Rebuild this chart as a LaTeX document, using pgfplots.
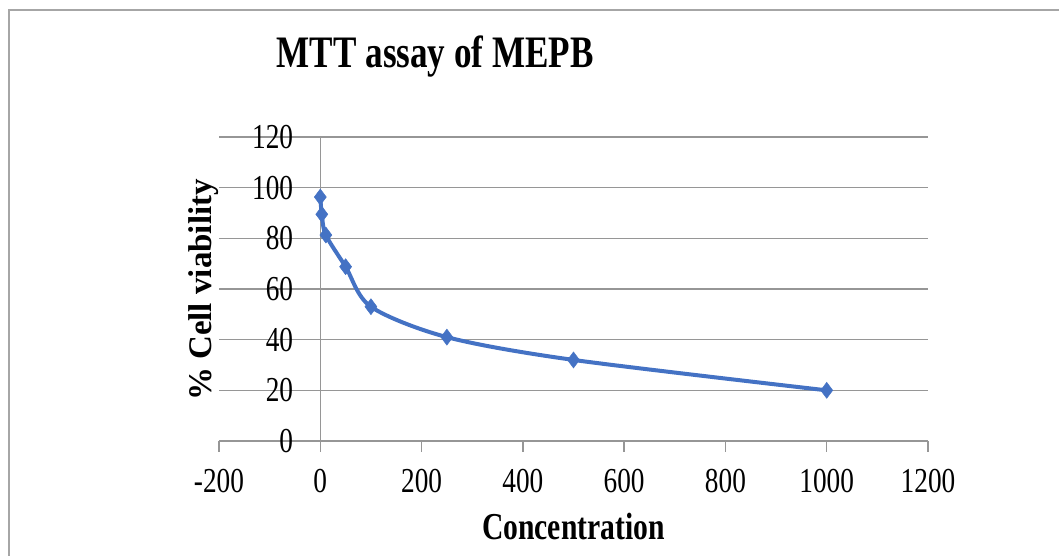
\documentclass[border=0pt]{standalone}
\usepackage{pgfplots}
\pgfplotsset{compat=1.18}
\usepackage{fontspec}
\setmainfont[FakeStretch=0.78]{Liberation Serif}
\newfontfamily\ylabfont{Liberation Serif}
\definecolor{seriesblue}{HTML}{4472C4}
\definecolor{axgray}{HTML}{969696}
\definecolor{framegray}{HTML}{A6A6A6}
\begin{document}
\begin{tikzpicture}
\useasboundingbox (0,0) rectangle (1059bp,556bp);
\draw[framegray, line width=2bp] (8.5bp,0) -- (8.5bp,545.5bp) -- (1059bp,545.5bp);
\begin{axis}[
  at={(219bp,115bp)}, anchor=south west,
  scale only axis, width=709bp, height=304bp,
  xmin=-200, xmax=1200, ymin=0, ymax=120,
  xtick={-200,0,...,1200}, ytick={0,20,...,120},
  axis x line*=bottom, axis y line*=center,
  hide obscured x ticks=false, hide obscured y ticks=false,
  axis line style={axgray, line width=1.5bp},
  ymajorgrids, grid style={axgray, line width=1.5bp},
  tick align=outside, major tick length=11bp,
  xtick style={axgray, line width=1.5bp},
  ytick style={draw=none},
  /pgf/number format/assume math mode=true,
  /pgf/number format/1000 sep={},
  tick label style={font=\fontsize{35bp}{40bp}\selectfont, inner sep=0pt, text=black},
  xticklabel style={anchor=base, yshift=-40bp},
  yticklabel style={anchor=east, xshift=-16bp},
  title={MTT assay of MEPB},
  title style={at={(axis description cs:0.305,1.2105)}, anchor=base, inner sep=0pt,
    font=\fontsize{45bp}{50bp}\selectfont\bfseries},
  xlabel={Concentration},
  every axis x label/.style={at={(axis description cs:0.5,-0.3224)}, anchor=base, inner sep=0pt,
    font=\fontsize{38bp}{44bp}\selectfont\bfseries},
  ylabel={\% Cell viability},
  every axis y label/.style={at={(axis description cs:-0.0099,0.4967)}, anchor=base, rotate=90, inner sep=0pt,
    font=\ylabfont\bfseries\fontsize{33bp}{38bp}\selectfont},
  clip=false,
]
\addplot[seriesblue, line width=4bp, smooth,
  mark=diamond*, mark size=8bp,
  mark options={solid, fill=seriesblue, draw=seriesblue, line width=0.5bp}]
  coordinates {(0,96.3) (3,89.5) (11,81.3) (50,68.8) (100,53.0) (250,41.0) (500,32.0) (1000,20.0)};
\end{axis}
\end{tikzpicture}
\end{document}
